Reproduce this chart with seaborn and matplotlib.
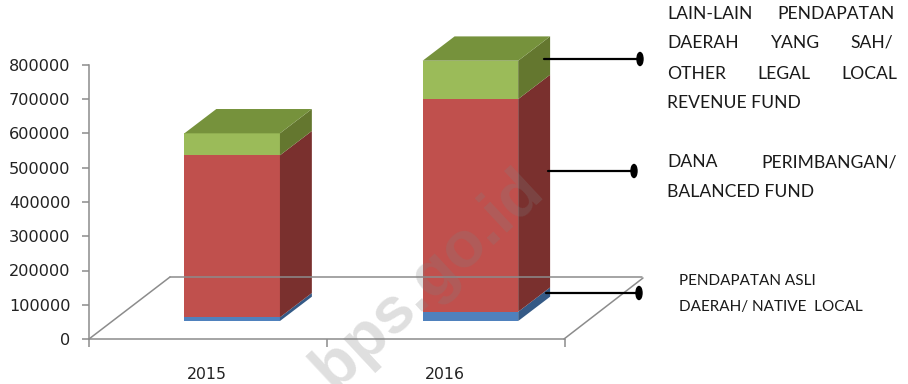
import matplotlib
matplotlib.use("Agg")
import matplotlib.pyplot as plt
from matplotlib.lines import Line2D
from matplotlib.patches import Ellipse, Polygon
from matplotlib.transforms import Affine2D
import seaborn as sns

years = [2015, 2016]
year_labels = ["2015", "2016"]
pad_values = [10800, 27000]
balanced_values = [473000, 621000]
other_values = [64200, 112000]
y_ticks = [0, 100000, 200000, 300000, 400000, 500000, 600000, 700000, 800000]

front_colors = ["#4F81BD", "#C0504D", "#9BBB59"]
side_colors = ["#355A86", "#7A302E", "#64772F"]
top_color = "#76923C"
grey = "#8C8C8C"

W, H = 908, 384
fig = plt.figure(figsize=(W / 100, H / 100), dpi=100, facecolor="white")
sns.set_style("white")
plt.rcParams["font.family"] = ["DejaVu Sans"]

AX_L, AX_R, AX_T, AX_B = 88.5, 565, 65, 339
ax = fig.add_axes([AX_L / W, 1 - AX_B / H, (AX_R - AX_L) / W, (AX_B - AX_T) / H])
ax.patch.set_alpha(0)

# pixel-space transform for the decorative frame, callouts and notes
px = Affine2D().scale(1 / W, -1 / H).translate(0, 1) + fig.transFigure

# the pseudo-3D floor
floor_lift = 52500
bar_width = 0.401
depth_x = 0.134
depth_y = 71000

for xs, ys in [((89, 565), (339, 339)), ((89, 170), (339, 277)),
               ((170, 642), (277, 277)), ((564, 643), (339, 278))]:
    fig.add_artist(Line2D(xs, ys, transform=px, color=grey, lw=1.1, zorder=0.5))

bottom = [floor_lift, floor_lift]
for vals, front, side in zip([pad_values, balanced_values, other_values],
                             front_colors, side_colors):
    sns.barplot(x=years, y=vals, bottom=bottom, native_scale=True, width=bar_width,
                color=front, saturation=1, ax=ax, linewidth=0, zorder=3, clip_on=False)
    for i, yr in enumerate(years):
        x_r = yr + bar_width / 2
        b, t = bottom[i], bottom[i] + vals[i]
        ax.add_patch(Polygon([(x_r, b), (x_r, t), (x_r + depth_x, t + depth_y),
                              (x_r + depth_x, b + depth_y)],
                             closed=True, facecolor=side, edgecolor="none",
                             clip_on=False, zorder=3))
    bottom = [b0 + v for b0, v in zip(bottom, vals)]

for yr, t in zip(years, bottom):
    x_l, x_r = yr - bar_width / 2, yr + bar_width / 2
    ax.add_patch(Polygon([(x_l, t), (x_r, t), (x_r + depth_x, t + depth_y),
                          (x_l + depth_x, t + depth_y)],
                         closed=True, facecolor=top_color, edgecolor="none",
                         clip_on=False, zorder=3))

ax.set_xlim(2014.397, 2016.397)
ax.set_ylim(0, 800000)
ax.set_xlabel("")
ax.set_ylabel("")
ax.set_yticks(y_ticks)
ax.set_yticklabels([str(v) for v in y_ticks])
ax.set_xticks([2014.397, 2015.397, 2016.397])
ax.set_xticklabels([])
ax.set_xticks([y - 0.107 for y in years], labels=year_labels, minor=True)
ax.tick_params(axis="x", which="major", length=6, width=1.1, color=grey, bottom=True)
ax.tick_params(axis="x", which="minor", length=0, pad=20, labelsize=11.3, labelcolor="#222222")
ax.tick_params(axis="y", length=5, width=1.1, color=grey, left=True, pad=8,
               labelsize=11.6, labelcolor="#222222")
for name, spine in ax.spines.items():
    spine.set_visible(name == "left")
    spine.set_color(grey)
    spine.set_linewidth(1.1)

# callouts
for x0, x1, y in [(544, 640, 59), (548, 634, 171), (546, 639, 293)]:
    fig.add_artist(Line2D((x0, x1), (y, y), transform=px, color="black", lw=1.6, zorder=5))
    fig.add_artist(Ellipse((x1, y), 6, 13, transform=px, color="black", zorder=5))

# justified notes
note_font = ["Lato", "DejaVu Sans"]
rows = [
    (14, [("LAIN-LAIN", 667, "left"), ("PENDAPATAN", 895, "right")]),
    (43, [("DAERAH", 667, "left"), ("YANG", 796, "center"), ("SAH/", 893, "right")]),
    (74, [("OTHER", 667, "left"), ("LEGAL", 784, "center"), ("LOCAL", 897, "right")]),
    (103, [("REVENUE FUND", 667, "left")]),
    (162, [("DANA", 667, "left"), ("PERIMBANGAN/", 897, "right")]),
    (192, [("BALANCED FUND", 667, "left")]),
]
for y, items in rows:
    for s, x, ha in items:
        fig.text(x, y, s, transform=px, ha=ha, va="center", fontsize=12.6,
                 family=note_font, color="#1a1a1a")
for y, s in [(281, "PENDAPATAN ASLI"), (307, "DAERAH/ NATIVE  LOCAL")]:
    fig.text(679, y, s, transform=px, ha="left", va="center", fontsize=11,
             family=note_font, color="#1a1a1a")

# watermark
fig.text(407, 299, "b.bps.go.id", transform=px, ha="center", va="center", rotation=43,
         rotation_mode="anchor", fontsize=47, fontweight="bold",
         family=["Liberation Sans", "DejaVu Sans"], color="#808080", alpha=0.25, zorder=6)

fig.savefig("out.png", dpi=100)
